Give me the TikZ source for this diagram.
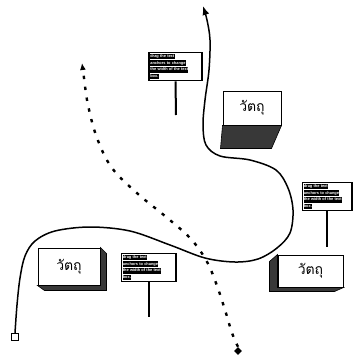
\documentclass[tikz,border=0pt]{standalone}
\usepackage{fontspec}
\usepackage{xcolor}
\newfontfamily\thaifont[Script=Thai]{Loma}
\newfontfamily\signfont{Liberation Sans}
\usetikzlibrary{arrows.meta,shapes.geometric,calc}
\newcommand{\hlline}[1]{{\setlength{\fboxsep}{0.35pt}\colorbox{black}{\color{white}\strut #1}}}
\newcommand{\signtext}{\hlline{drag the text}\\\hlline{anchors to change}\\\hlline{the width of the text}\\\hlline{box.}}
\tikzset{
  objbox/.style={draw=black, line width=1pt, fill=white, font=\thaifont\fontsize{14}{16}\selectfont, inner sep=0pt},
  shade/.style={fill=black!78, draw=black, line width=0.6pt},
  signbox/.style={draw=black, line width=1.6pt, fill=white, align=left, anchor=center, inner sep=1.2pt, text width=#1, font=\signfont\bfseries\fontsize{3.9}{5.0}\selectfont},
  post/.style={line width=2pt},
  mainpath/.style={line width=1.5pt, -{Latex[length=9pt,width=7pt]}},
  dotpath/.style={line width=2.4pt, dash pattern=on 3.4pt off 7.6pt, -{Latex[length=7pt,width=6pt]}},
}
\begin{document}
\begin{tikzpicture}[x=1pt,y=-1pt]
\useasboundingbox (0,0) rectangle (355,356);

% start / end markers
\node[draw, line width=1.3pt, fill=white, minimum size=7pt, inner sep=0pt] (sq) at (15,337) {};
\coordinate (topend) at (203,6);
\node[diamond, fill=black, minimum size=8pt, inner sep=0pt] (dm) at (238,351) {};
\coordinate (dotend) at (82,63);

% dotted path
\draw[dotpath] plot[smooth, tension=0.6] coordinates {(dm.north) (232,333) (225,310) (216,283) (206,260) (190,238) (165,216) (138,194) (112,168) (97,138) (88,105) (84,78) (dotend)};

% solid path
\draw[mainpath] plot[smooth, tension=0.55] coordinates {(sq.north) (17,305) (20,278) (25,256) (35,241) (55,231) (90,227) (130,231) (170,245) (205,258) (235,262) (258,259) (277,248) (290,233) (293,210) (288,188) (276,170) (250,160) (220,156) (206,145) (203,125) (205,100) (209,70) (210,40) (207,20) (topend)};

% object boxes
\node[objbox, minimum width=58pt, minimum height=34pt] (b1) at (252,108) {วัตถุ};
\fill[shade] (b1.south west) -- (b1.south east) -- ++(-10,23) -- ++(-51,0) -- cycle;

\node[objbox, minimum width=62pt, minimum height=37pt] (b2) at (69,266.5) {วัตถุ};
\fill[shade] (b2.north east) -- ++(6,6) -- ++(0,37) -- ++(-62,0) -- (b2.south west) -- (b2.south east) -- cycle;

\node[objbox, minimum width=65pt, minimum height=32pt] (b3) at (310.5,271) {วัตถุ};
\fill[shade] (b3.north west) -- ++(-8,7) -- ++(0,30) -- ++(65,0) -- (b3.south east) -- (b3.south west) -- cycle;

% signs
\node[signbox=51pt] (s1) at (175.5,66.5) {\signtext};
\coordinate (p1) at (176,115);
\draw[post] (s1.south) -- (p1);

\node[signbox=52pt] (s2) at (148.5,267.5) {\signtext};
\coordinate (p2) at (148.5,317);
\draw[post] (s2.south) -- (p2);

\node[signbox=47pt] (s3) at (327,196.5) {\signtext};
\coordinate (p3) at (327,247);
\draw[post] (s3.south) -- (p3);
\end{tikzpicture}
\end{document}
